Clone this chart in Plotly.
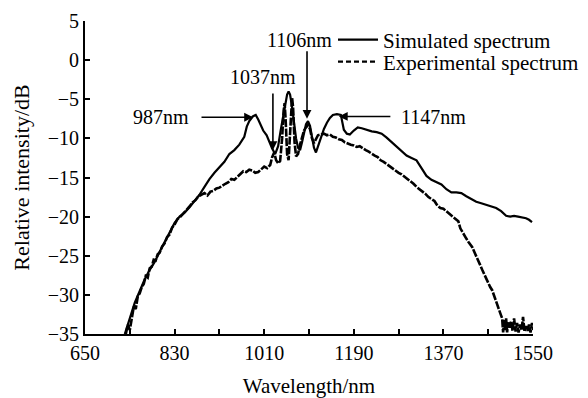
import plotly.graph_objects as go

# ---- data ----
sim_wl = [730, 735, 742, 750, 760, 770, 780, 790, 800, 810, 820, 830, 840, 850, 860, 870, 880, 890,
          900, 910, 920, 930, 940, 950, 960, 970, 975, 980, 987, 993, 998, 1003, 1008, 1015, 1020,
          1026, 1032, 1038, 1043, 1048, 1052, 1056, 1059, 1062, 1066, 1070, 1074, 1078, 1082, 1086,
          1090, 1094, 1098, 1102, 1106, 1110, 1114, 1118, 1124, 1130, 1136, 1142, 1148, 1156, 1164,
          1167, 1170, 1176, 1182, 1190, 1198, 1206, 1216, 1226, 1236, 1246, 1256, 1266, 1276, 1286,
          1296, 1306, 1316, 1326, 1336, 1346, 1356, 1366, 1376, 1386, 1396, 1406, 1416, 1426, 1436,
          1446, 1456, 1466, 1476, 1486, 1496, 1504, 1512, 1520, 1528, 1536, 1542, 1548]
sim_db = [-35.0, -34.0, -32.5, -31.0, -29.5, -28.0, -26.8, -25.8, -24.5, -23.3, -22.0, -20.8, -20.0,
          -19.5, -18.8, -18.0, -17.2, -16.2, -15.2, -14.4, -13.7, -13.0, -12.0, -11.5, -10.8, -9.8,
          -8.5, -7.8, -7.2, -7.0, -7.6, -8.3, -9.0, -9.6, -10.5, -11.3, -12.0, -11.0, -9.0, -7.0,
          -5.5, -4.4, -4.0, -4.4, -6.0, -8.0, -10.0, -11.2, -11.5, -10.5, -9.2, -8.2, -7.8, -8.4,
          -9.8, -11.2, -11.8, -11.0, -9.8, -8.8, -8.0, -7.4, -7.0, -6.9, -7.0, -8.0, -8.9, -9.4,
          -9.5, -9.0, -8.6, -8.7, -8.9, -9.1, -9.2, -9.4, -9.9, -10.5, -11.1, -11.7, -12.2, -12.5,
          -12.8, -13.8, -14.8, -15.3, -15.6, -15.9, -16.5, -16.9, -16.9, -17.0, -17.4, -17.8,
          -18.1, -18.3, -18.5, -18.7, -18.9, -19.3, -19.9, -20.0, -19.9, -20.0, -20.1, -20.2,
          -20.4, -20.7]

exp_wl = [732, 736, 740, 744, 748, 752, 756, 760, 764, 768, 772, 776, 780, 784, 788, 792, 796, 800,
          805, 810, 815, 820, 825, 830, 836, 842, 848, 854, 860, 866, 872, 878, 884, 890, 896, 902,
          908, 914, 920, 926, 932, 938, 944, 950, 956, 962, 968, 974, 980, 986, 992, 998, 1004,
          1010, 1016, 1022, 1026, 1030, 1034, 1038, 1042, 1046, 1049, 1051, 1053, 1056, 1059, 1062,
          1064, 1066, 1068, 1071, 1074, 1078, 1082, 1086, 1090, 1094, 1098, 1102, 1106, 1110, 1114,
          1118, 1124, 1130, 1136, 1142, 1148, 1154, 1160, 1166, 1172, 1178, 1184, 1190, 1196, 1202,
          1208, 1214, 1220, 1226, 1232, 1238, 1244, 1250, 1256, 1262, 1268, 1274, 1280, 1286, 1292,
          1298, 1304, 1310, 1316, 1322, 1328, 1334, 1340, 1346, 1352, 1358, 1364, 1370, 1376, 1382,
          1388, 1394, 1400, 1404, 1408, 1412, 1416, 1420, 1424, 1428, 1432, 1436, 1440, 1444, 1448,
          1452, 1456, 1460, 1464, 1468, 1472, 1476, 1480, 1484, 1488, 1490, 1492, 1494, 1496, 1498,
          1500, 1503, 1506, 1509, 1512, 1515, 1518, 1521, 1524, 1527, 1530, 1533, 1536, 1539, 1542,
          1545, 1548, 1550]
exp_db = [-35.0, -33.8, -34.5, -32.8, -31.5, -31.8, -30.2, -29.8, -29.0, -28.6, -27.6, -27.8, -26.6,
          -26.4, -25.5, -25.6, -24.8, -24.6, -23.8, -23.4, -22.6, -22.3, -21.4, -21.0, -20.3, -20.0,
          -19.6, -19.2, -18.7, -18.2, -17.9, -17.4, -17.2, -17.0, -17.3, -16.8, -16.7, -16.4, -16.3,
          -16.0, -15.8, -15.6, -15.2, -15.3, -14.9, -14.6, -14.2, -14.3, -14.0, -14.1, -14.4, -14.3,
          -14.0, -13.6, -13.8, -13.4, -12.4, -11.8, -12.8, -13.2, -12.9, -10.0, -6.5, -5.5, -7.5,
          -12.0, -12.8, -9.0, -5.5, -4.8, -6.0, -10.5, -12.3, -12.0, -10.8, -9.8, -9.0, -8.6, -8.3,
          -8.8, -10.0, -10.6, -10.0, -9.6, -9.5, -9.4, -9.6, -9.5, -9.8, -9.9, -10.1, -10.2, -10.5,
          -10.7, -10.8, -10.9, -11.1, -11.0, -11.3, -11.5, -11.7, -12.0, -12.2, -12.4, -12.8, -13.0,
          -13.3, -13.5, -13.8, -14.1, -14.4, -14.6, -14.9, -15.2, -15.4, -15.8, -16.2, -16.5, -16.7,
          -17.1, -17.5, -17.7, -18.0, -18.6, -18.9, -19.0, -19.3, -19.6, -20.0, -20.2, -20.6, -21.5,
          -22.0, -22.4, -22.8, -23.2, -23.6, -23.9, -24.5, -25.0, -25.6, -26.2, -26.8, -27.4, -28.0,
          -28.6, -29.0, -29.4, -30.2, -31.0, -31.7, -32.3, -33.0, -34.8, -33.2, -34.5, -33.0, -34.8,
          -33.5, -34.2, -33.4, -34.6, -33.0, -34.7, -33.6, -34.8, -33.8, -34.5, -32.8, -34.7, -34.0,
          -34.6, -33.8, -34.8, -33.6, -34.5]

series_names = ["Simulated spectrum", "Experimental spectrum"]
x_title = "Wavelength/nm"
y_title = "Relative intensity/dB"

# peak labels: (text, text_x, text_y, head_x, head_y, arrow dx px, arrow dy px)
peak_labels = [
    ("987nm", 802, -7.3, 987.5, -7.3, -53, 0),
    ("1037nm", 1007, -2.2, 1027.5, -11.5, 0, -58),
    ("1106nm", 1080, 2.6, 1096, -7.5, 0, -69),
    ("1147nm", 1351, -7.3, 1160, -7.2, 53, 0),
]

FONT = "Liberation Serif"
# the page body adds an 8px offset; the figure fills the rest of the 588x398 window
OFF = 8
W, H = 588 - OFF, 398 - OFF

fig = go.Figure()
fig.add_trace(go.Scatter(x=sim_wl, y=sim_db, mode="lines", name=series_names[0],
                         line=dict(color="black", width=2.2), legend="legend"))
fig.add_trace(go.Scatter(x=exp_wl, y=exp_db, mode="lines", name=series_names[1],
                         line=dict(color="black", width=2.6, dash="8px,1.5px"), showlegend=False))
# legend entry for the experimental curve (dashed sample as in the figure key)
fig.add_trace(go.Scatter(x=[None], y=[None], mode="lines", name=series_names[1],
                         line=dict(color="black", width=2.2, dash="5px,3px"), legend="legend2"))

annotations = []
for txt, tx, ty, hx, hy, dx, dy in peak_labels:
    annotations.append(dict(x=tx, y=ty, text=txt, showarrow=False,
                            font=dict(family=FONT, size=20, color="black"),
                            xanchor="center", yanchor="middle"))
    annotations.append(dict(x=hx, y=hy, text="", showarrow=True, ax=dx, ay=dy,
                            arrowhead=2, arrowsize=1.1, arrowwidth=1.6, arrowcolor="black"))

leg_common = dict(font=dict(family=FONT, size=21, color="black"), bgcolor="rgba(0,0,0,0)",
                  borderwidth=0, xanchor="left", yanchor="middle", itemwidth=40,
                  xref="container", yref="container")

fig.update_layout(
    width=W, height=H,
    margin=dict(l=85 - OFF, r=55, t=21 - OFF, b=64, autoexpand=False),
    paper_bgcolor="white", plot_bgcolor="white",
    font=dict(family=FONT, size=20, color="black"),
    showlegend=True,
    legend=dict(x=(333 - OFF) / W, y=1 - (40 - OFF) / H, **leg_common),
    legend2=dict(x=(333 - OFF) / W, y=1 - (62 - OFF) / H, **leg_common),
    annotations=annotations,
    xaxis=dict(range=[650, 1550], tick0=650, dtick=180, ticks="inside", ticklen=5,
               tickwidth=1.5, tickcolor="black", showline=True, linecolor="black", linewidth=2,
               showgrid=False, zeroline=False, automargin=False,
               minor=dict(tick0=650, dtick=90, ticks="inside", ticklen=5, tickwidth=1.5,
                          tickcolor="black", showgrid=False),
               title=dict(text=x_title, font=dict(family=FONT, size=21), standoff=16),
               tickfont=dict(family=FONT, size=20)),
    yaxis=dict(range=[-35, 5], tick0=-35, dtick=5, ticks="inside", ticklen=5, tickwidth=1.5,
               tickcolor="black", showline=True, linecolor="black", linewidth=2,
               showgrid=False, zeroline=False, automargin=False,
               title=dict(text=y_title, font=dict(family=FONT, size=22), standoff=12),
               tickfont=dict(family=FONT, size=20)),
)

fig.write_html("out.html")
